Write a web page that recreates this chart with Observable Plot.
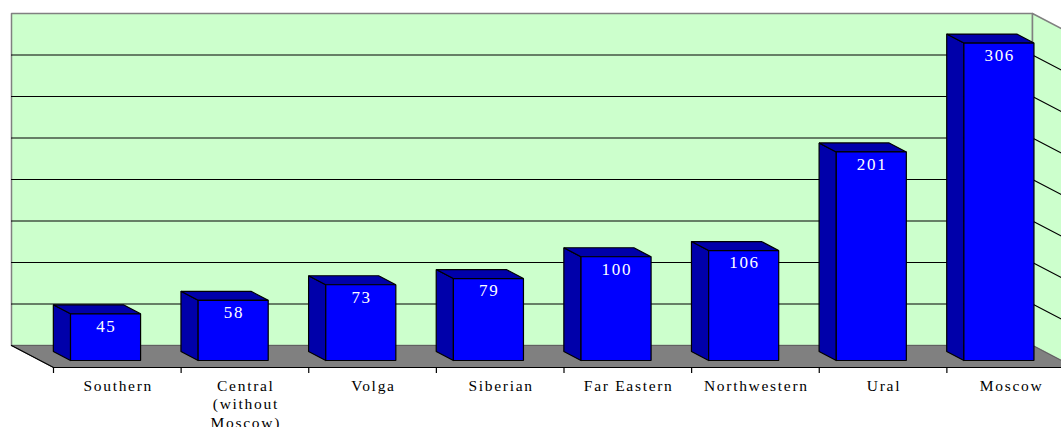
<!DOCTYPE html>
<html><head><meta charset="utf-8">
<script src="https://cdn.jsdelivr.net/npm/d3@7"></script>
<script src="https://cdn.jsdelivr.net/npm/@observablehq/plot@0.6"></script>
<style>
body{margin:0;background:#fff}
#chart{width:1061px;height:427px;overflow:hidden}
#chart svg text{letter-spacing:1.7px !important}
</style></head><body><div id="chart"></div>
<script>
// ---- data ----
const regions = ["Southern", "Central\n(without\nMoscow)", "Volga", "Siberian", "Far Eastern", "Northwestern", "Ural", "Moscow"];
const values = [45, 58, 73, 79, 100, 106, 201, 306];
const gridValues = [40, 80, 120, 160, 200, 240, 280];
const yMax = 320;

// ---- layout (3D projection helpers) ----
const W = 1061, H = 427;
const X0 = 53, X1 = 1074, Y0 = 367, YTOP = 35;   // front plane of the box
const DEPTH_PX = [-42, -22];                        // pixel shift from front to back
const n = regions.length;
const pxPerX = (X1 - X0) / n, pxPerY = (Y0 - YTOP) / yMax;
const DX = DEPTH_PX[0] / pxPerX, DY = -DEPTH_PX[1] / pxPerY;
const P = (u, v, d) => ({x: u + d * DX, y: v + d * DY});
const poly = (id, pts) => { const a = pts.map(p => ({...p, id})); a.push({...a[0]}); return a; };

const df = 0.318, db = 0.727, a = 0.238, bw = 0.549;

const backWall = poly("back", [P(0,0,1), P(n,0,1), P(n,yMax,1), P(0,yMax,1)]);
const rightWall = poly("right", [P(n,0,1), P(n,0,0), P(n,yMax,0), P(n,yMax,1)]);
const floor = poly("floor", [P(0,0,0), P(n,0,0), P(n,0,1), P(0,0,1)]);
const floorEdges = [P(0,0,1), P(0,0,0), P(n,0,0)].map(p => ({...p, id: "edge"}));
const grid = gridValues.flatMap(v => [P(0,v,1), P(n,v,1), P(n,v,0)].map(p => ({...p, id: "g" + v})));

const sideTop = [], fronts = [];
values.forEach((v, i) => {
  const u0 = i + a, u1 = i + a + bw;
  sideTop.push(...poly("s" + i, [P(u0,0,df), P(u0,v,df), P(u0,v,db), P(u0,0,db)]));
  sideTop.push(...poly("t" + i, [P(u0,v,df), P(u1,v,df), P(u1,v,db), P(u0,v,db)]));
  fronts.push(...poly("f" + i, [P(u0,0,df), P(u1,0,df), P(u1,v,df), P(u0,v,df)]));
});
const valueLabels = values.map((v, i) => ({...P(i + a + bw / 2, v, df), text: String(v)}));
const catLabels = regions.map((r, i) => ({x: i + 0.5, y: 0, text: r}));

const chart = Plot.plot({
  width: W, height: H,
  x: {domain: [0, n], range: [X0, X1], axis: null},
  y: {domain: [0, yMax], range: [Y0, YTOP], axis: null},
  style: {fontFamily: "'Liberation Serif', 'Times New Roman', serif", background: "white"},
  marks: [
    Plot.line(backWall, {x: "x", y: "y", z: "id", fill: "#CCFFCC", stroke: "#808080", strokeWidth: 1.5}),
    Plot.line(rightWall, {x: "x", y: "y", z: "id", fill: "#CCFFCC", stroke: "#808080", strokeWidth: 1.5}),
    Plot.line(grid, {x: "x", y: "y", z: "id", stroke: "black", strokeWidth: 1.2}),
    Plot.line(floor, {x: "x", y: "y", z: "id", fill: "#808080", stroke: "#606060", strokeWidth: 1}),
    Plot.line(floorEdges, {x: "x", y: "y", z: "id", stroke: "black", strokeWidth: 1.2}),
    Plot.ruleX(d3.range(n), {x: d => d, y1: 0, y2: -6 / pxPerY, stroke: "black", strokeWidth: 1.2}),
    Plot.line(sideTop, {x: "x", y: "y", z: "id", fill: "#0000AA", stroke: "black", strokeWidth: 1.2, strokeLinejoin: "miter"}),
    Plot.line(fronts, {x: "x", y: "y", z: "id", fill: "#0000FF", stroke: "black", strokeWidth: 1.2, strokeLinejoin: "miter"}),
    Plot.text(valueLabels, {x: "x", y: "y", text: "text", dx: 0.8, dy: 12.5, fill: "white", fontSize: 17}),
    Plot.text(catLabels, {x: "x", y: "y", text: "text", dx: 0.9, dy: 10, lineAnchor: "top", fontSize: 15.5, lineHeight: 1.2, fill: "black"})
  ]
});
document.getElementById("chart").appendChild(chart);
</script></body></html>
